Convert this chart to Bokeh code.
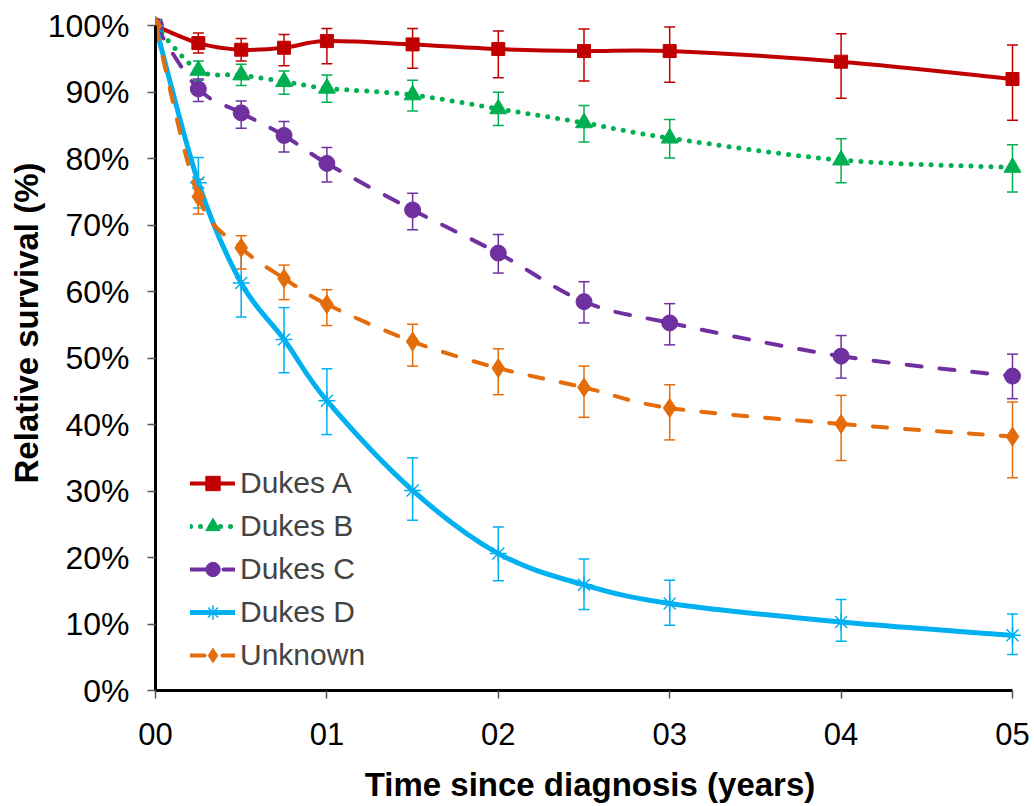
import numpy as np
from bokeh.plotting import figure
from bokeh.models import (ColumnDataSource, Whisker, TeeHead, Legend, LegendItem,
                          FixedTicker, PrintfTickFormatter, Title, Range1d)
from bokeh.embed import file_html
from bokeh.resources import INLINE

# ---------------- data ----------------
years = [0, 0.25, 0.5, 0.75, 1, 1.5, 2, 2.5, 3, 4, 5]
x_ticks = [0, 1, 2, 3, 4, 5]
x_tick_labels = ["00", "01", "02", "03", "04", "05"]
y_ticks = [0, 10, 20, 30, 40, 50, 60, 70, 80, 90, 100]

series_names = ["Dukes A", "Dukes B", "Dukes C", "Dukes D", "Unknown"]

dukes_a = [100, 97.4, 96.4, 96.7, 97.7, 97.2, 96.5, 96.2, 96.2, 94.6, 92.0]
dukes_a_lo = [100, 95.9, 94.7, 94.0, 94.3, 93.6, 92.2, 91.7, 91.5, 89.1, 85.8]
dukes_a_hi = [100, 98.9, 98.1, 98.7, 99.6, 99.6, 99.2, 99.5, 99.8, 98.8, 97.1]

dukes_b = [100, 93.3, 92.6, 91.6, 90.6, 89.6, 87.5, 85.4, 83.1, 79.8, 78.7]
dukes_b_lo = [100, 91.8, 91.0, 89.7, 88.5, 87.2, 85.0, 82.5, 80.1, 76.4, 75.0]
dukes_b_hi = [100, 94.7, 94.2, 93.2, 92.6, 91.8, 90.0, 88.0, 85.9, 83.0, 82.1]

dukes_c = [100, 90.5, 86.9, 83.5, 79.3, 72.3, 65.8, 58.5, 55.3, 50.3, 47.3]
dukes_c_lo = [100, 88.6, 84.6, 81.0, 76.5, 69.3, 62.8, 55.3, 52.0, 47.0, 43.9]
dukes_c_hi = [100, 92.0, 88.7, 85.6, 81.7, 74.8, 68.6, 61.5, 58.2, 53.4, 50.6]

dukes_d = [100, 76.4, 61.3, 52.8, 43.6, 30.1, 20.6, 15.9, 13.1, 10.3, 8.3]
dukes_d_lo = [100, 72.6, 56.2, 47.8, 38.5, 25.6, 16.5, 12.2, 9.8, 7.4, 5.4]
dukes_d_hi = [100, 80.2, 66.5, 57.6, 48.4, 35.0, 24.6, 19.8, 16.6, 13.7, 11.5]

unknown = [100, 74.3, 66.6, 62.0, 58.1, 52.5, 48.5, 45.6, 42.5, 40.1, 38.2]
unknown_lo = [100, 71.7, 63.4, 58.8, 54.9, 48.8, 44.5, 41.1, 37.7, 34.6, 32.0]
unknown_hi = [100, 76.9, 68.4, 64.0, 60.3, 55.1, 51.4, 48.8, 46.0, 44.4, 43.4]

# ---------------- styles ----------------
FONT = "Liberation Sans"
styles = [
    dict(color="#C00000", dash="solid", marker="square", size=13, lw=4),
    dict(color="#00B050", dash="0 10", marker="triangle", size=17, lw=5),
    dict(color="#7030A0", dash="15 18", marker="circle", size=16, lw=4),
    dict(color="#00B0F0", dash="solid", marker="asterisk", size=17, lw=5),
    dict(color="#E46C0A", dash="14 18", marker="diamond", size=19, lw=4),
]
values = [dukes_a, dukes_b, dukes_c, dukes_d, unknown]
lows = [dukes_a_lo, dukes_b_lo, dukes_c_lo, dukes_d_lo, unknown_lo]
highs = [dukes_a_hi, dukes_b_hi, dukes_c_hi, dukes_d_hi, unknown_hi]


def smooth_source(x, y):
    """Bezier segments through the points (Excel-like smoothed line)."""
    n = len(x)
    d = dict(x0=[], y0=[], x1=[], y1=[], cx0=[], cy0=[], cx1=[], cy1=[])
    for i in range(n - 1):
        im1 = max(i - 1, 0)
        ip2 = min(i + 2, n - 1)
        d["x0"].append(x[i]); d["y0"].append(y[i])
        d["x1"].append(x[i + 1]); d["y1"].append(y[i + 1])
        d["cx0"].append(x[i] + (x[i + 1] - x[im1]) / 6.0)
        d["cy0"].append(y[i] + (y[i + 1] - y[im1]) / 6.0)
        d["cx1"].append(x[i + 1] - (x[ip2] - x[i]) / 6.0)
        d["cy1"].append(y[i + 1] - (y[ip2] - y[i]) / 6.0)
    return ColumnDataSource(d)


p = figure(width=1034, height=806, x_range=Range1d(0, 5.07), y_range=Range1d(0, 102),
           output_backend="svg", toolbar_location=None,
           min_border_left=155, min_border_right=10, min_border_top=12, min_border_bottom=116)
p.outline_line_color = None
p.grid.visible = False
p.background_fill_color = "white"

legend_items = []
for name, vals, lo, hi, st in zip(series_names, values, lows, highs, styles):
    bsrc = smooth_source(years, vals)
    br = p.bezier(x0="x0", y0="y0", x1="x1", y1="y1", cx0="cx0", cy0="cy0",
                  cx1="cx1", cy1="cy1", source=bsrc, line_color=st["color"],
                  line_width=st["lw"], line_dash=st["dash"], line_cap="round")
    src = ColumnDataSource(dict(x=years, y=vals, lo=lo, hi=hi))
    w = Whisker(source=src, base="x", lower="lo", upper="hi", dimension="height",
                line_color=st["color"], line_width=1.5,
                upper_head=TeeHead(size=11, line_color=st["color"], line_width=1.5),
                lower_head=TeeHead(size=11, line_color=st["color"], line_width=1.5))
    p.add_layout(w)
    if st["marker"] == "asterisk":
        sr = p.scatter("x", "y", source=src, marker="asterisk", size=st["size"],
                       line_color=st["color"], line_width=1.5)
    else:
        sr = p.scatter("x", "y", source=src, marker=st["marker"], size=st["size"],
                       fill_color=st["color"], line_color=st["color"], line_width=1)
    legend_items.append(LegendItem(label=name, renderers=[br, sr]))

legend = Legend(items=legend_items, location=(35, 17), padding=0, margin=0,
                border_line_color=None, background_fill_alpha=0,
                label_text_font=FONT, label_text_font_size="30px",
                glyph_width=45, glyph_height=36, spacing=7, label_standoff=5)
p.add_layout(legend)

# axes
p.xaxis.ticker = FixedTicker(ticks=x_ticks)
p.xaxis.major_label_overrides = {t: l for t, l in zip(x_ticks, x_tick_labels)}
p.xaxis.major_label_text_font = FONT
p.xaxis.major_label_text_font_size = "31px"
p.xaxis.major_label_standoff = 24
p.xaxis.axis_label = "Time since diagnosis (years)"
p.xaxis.axis_label_text_font = FONT
p.xaxis.axis_label_text_font_size = "33px"
p.xaxis.axis_label_text_font_style = "bold"
p.xaxis.axis_label_text_color = "black"
p.xaxis.axis_label_standoff = 18
p.xaxis.bounds = (0, 5)

p.yaxis.ticker = FixedTicker(ticks=y_ticks)
p.yaxis.formatter = PrintfTickFormatter(format="%d%%")
p.yaxis.major_label_text_font = FONT
p.yaxis.major_label_text_font_size = "32px"
p.yaxis.major_label_standoff = 18
p.yaxis.bounds = (0, 100)

for ax in (p.xaxis, p.yaxis):
    ax.axis_line_color = "black"
    ax.axis_line_width = 3
    ax.major_tick_line_color = "#555555"
    ax.major_tick_line_width = 1.5
    ax.major_tick_out = 8
    ax.major_tick_in = 0
    ax.minor_tick_line_color = None
    ax.major_label_text_color = "black"

ytitle = Title(text="Relative survival (%)", align="right", offset=150,
               text_font=FONT, text_font_size="33px", text_font_style="bold",
               text_color="black", standoff=0)
p.add_layout(ytitle, "left")

open("out.html", "w").write(file_html(p, INLINE))
